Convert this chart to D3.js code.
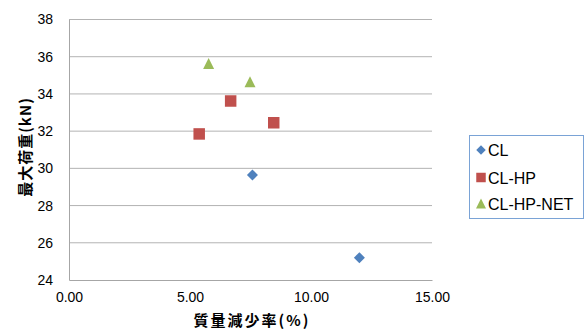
<!DOCTYPE html>
<html>
<head>
<meta charset="utf-8">
<script src="https://cdn.jsdelivr.net/npm/d3@7"></script>
<style>
  html, body { margin: 0; padding: 0; background: #fff; }
  svg { display: block; }
  text { font-family: "Liberation Sans", Arial, sans-serif; fill: #000; }
  .title { font-family: "Noto Sans CJK JP", sans-serif; font-weight: bold; }
</style>
</head>
<body>
<svg id="chart" width="587" height="329"></svg>
<script>
// Series: mass loss rate (%) vs. maximum load (kN)
const seriesNames = ["CL", "CL-HP", "CL-HP-NET"];
const clX = [7.58, 12.0];
const clY = [29.64, 25.2];
const clhpX = [5.38, 6.68, 8.46];
const clhpY = [31.85, 33.62, 32.45];
const clhpnetX = [5.77, 7.48];
const clhpnetY = [35.64, 34.66];
const xTicks = [0, 5, 10, 15];
const yTicks = [24, 26, 28, 30, 32, 34, 36, 38];
const colors = ["#4F81BD", "#C0504D", "#9BBB59"];

// marker shapes; "size" here is the bounding width in pixels
const diamond = { draw(ctx, s) { const r = s / 2; ctx.moveTo(0, -r); ctx.lineTo(r, 0); ctx.lineTo(0, r); ctx.lineTo(-r, 0); ctx.closePath(); } };
const square = { draw(ctx, s) { const r = s / 2; ctx.rect(-r, -r, s, s); } };
const triangle = { draw(ctx, s) { const r = s / 2; ctx.moveTo(0, -r); ctx.lineTo(r, r); ctx.lineTo(-r, r); ctx.closePath(); } };
const shapes = [diamond, square, triangle];
const plotSizes = [11, 11.5, 11];
const legendSizes = [9.5, 9.5, 10];

const series = [
  { x: clX, y: clY },
  { x: clhpX, y: clhpY },
  { x: clhpnetX, y: clhpnetY }
].map((s, i) => ({ name: seriesNames[i], color: colors[i], shape: shapes[i], i,
  points: s.x.map((v, j) => [v, s.y[j]]) }));

const svg = d3.select("#chart");
const plot = { left: 69, top: 19.5, right: 432, bottom: 280 };

const x = d3.scaleLinear().domain([0, 15]).range([plot.left, plot.right]);
const y = d3.scaleLinear().domain([24, 38]).range([plot.bottom, plot.top]);

// horizontal gridlines
svg.append("g")
  .selectAll("line")
  .data(yTicks.slice(1))
  .join("line")
  .attr("x1", plot.left).attr("x2", plot.right)
  .attr("y1", d => y(d)).attr("y2", d => y(d))
  .attr("stroke", "#b3b3b3").attr("stroke-width", 1);

// y axis
const yAxis = svg.append("g")
  .attr("transform", `translate(${plot.left},0)`)
  .call(d3.axisLeft(y).tickValues(yTicks).tickSize(0).tickPadding(16).tickFormat(d3.format("d")));
yAxis.select(".domain").attr("stroke", "#a6a6a6");
yAxis.selectAll("text").style("font-size", "14px").style("font-family", "'Liberation Sans', Arial, sans-serif");

// x axis
const xAxis = svg.append("g")
  .attr("transform", `translate(0,${plot.bottom})`)
  .call(d3.axisBottom(x).tickValues(xTicks).tickSize(0).tickPadding(12).tickFormat(d3.format(".2f")));
xAxis.select(".domain").attr("stroke", "#a6a6a6");
xAxis.selectAll("text").style("font-size", "14px").style("font-family", "'Liberation Sans', Arial, sans-serif");

// points
series.forEach(s => {
  svg.append("g")
    .selectAll("path")
    .data(s.points)
    .join("path")
    .attr("transform", d => `translate(${x(d[0])},${y(d[1])})`)
    .attr("d", d3.symbol().type(s.shape).size(plotSizes[s.i]))
    .attr("fill", s.color);
});

// axis titles
svg.append("text")
  .attr("class", "title")
  .attr("x", 252).attr("y", 326)
  .attr("text-anchor", "middle")
  .style("font-size", "15px")
  .style("letter-spacing", "2px")
  .text("質量減少率(%)");

svg.append("text")
  .attr("class", "title")
  .attr("transform", "translate(31,147) rotate(-90)")
  .attr("text-anchor", "middle")
  .style("font-size", "15px")
  .style("letter-spacing", "1px")
  .text("最大荷重(kN)");

// legend
const legend = svg.append("g");
legend.append("rect")
  .attr("x", 469.5).attr("y", 135.5)
  .attr("width", 114).attr("height", 83)
  .attr("fill", "#fff").attr("stroke", "#7aa3d6").attr("stroke-width", 1);
const itemY = [150, 177.5, 203.5];
series.forEach((s, i) => {
  legend.append("path")
    .attr("transform", `translate(481,${itemY[i]})`)
    .attr("d", d3.symbol().type(s.shape).size(legendSizes[i]))
    .attr("fill", s.color);
  legend.append("text")
    .attr("x", 488).attr("y", itemY[i] + 6)
    .style("font-size", "16px")
    .text(s.name);
});
</script>
</body>
</html>
